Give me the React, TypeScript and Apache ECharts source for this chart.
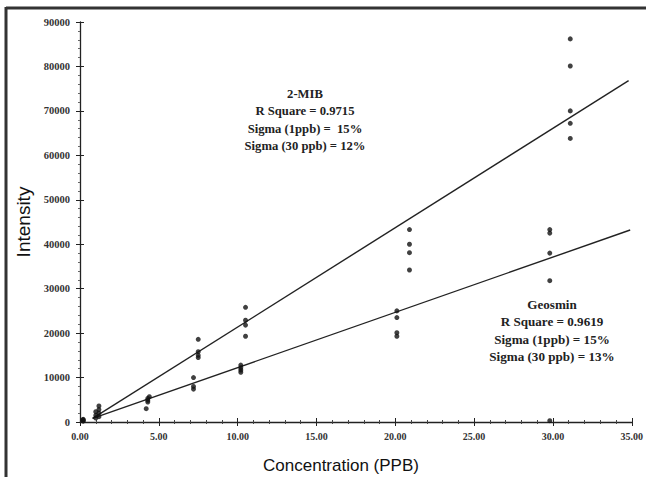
import React, { useEffect, useRef } from "react";
import * as echarts from "echarts";

const xTicks = [0, 5, 10, 15, 20, 25, 30, 35];
const yTicks = [0, 10000, 20000, 30000, 40000, 50000, 60000, 70000, 80000, 90000];

const mibX = [0.2, 0.2, 1.2, 1.2, 1.2, 1.2, 4.4, 4.2, 7.5, 7.5, 7.5, 7.5, 10.5, 10.5, 10.5, 10.5, 20.9, 20.9, 20.9, 20.9, 31.1, 31.1, 31.1, 31.1, 31.1];
const mibY = [300, 600, 1200, 2000, 2800, 3600, 5700, 3000, 18600, 15800, 15000, 14500, 25800, 22900, 21800, 19300, 43300, 40000, 38100, 34200, 86200, 80100, 70000, 67200, 63800];

const geoX = [0.2, 0.2, 1.0, 1.0, 1.0, 4.3, 4.3, 4.3, 7.2, 7.2, 7.2, 10.2, 10.2, 10.2, 10.2, 20.1, 20.1, 20.1, 20.1, 29.8, 29.8, 29.8, 29.8, 29.8];
const geoY = [200, 500, 900, 1500, 2300, 4500, 4900, 5300, 10000, 8000, 7400, 12800, 12200, 11700, 11200, 25000, 23500, 20100, 19300, 43300, 42500, 38000, 31800, 300];

const mibFitX = [0.8, 34.8];
const mibFitY = [800, 76800];
const geoFitX = [0.8, 34.9];
const geoFitY = [800, 43200];

const xTitle = "Concentration (PPB)";
const yTitle = "Intensity";
const mibNote = ["2-MIB", "R Square = 0.9715", "Sigma (1ppb) =  15%", "Sigma (30 ppb) = 12%"];
const geoNote = ["Geosmin", "R Square = 0.9619", "Sigma (1ppb) = 15%", "Sigma (30 ppb) = 13%"];

const zip = (a: number[], b: number[]) => a.map((v, i) => [v, b[i]]);

export default function App() {
  const ref = useRef<HTMLDivElement>(null);
  useEffect(() => {
    if (!ref.current) return;
    const chart = echarts.init(ref.current, null, { renderer: "svg" });
    const serif = "'Liberation Serif', 'DejaVu Serif', serif";
    const sans = "'Liberation Sans', Arial, sans-serif";
    const noteLines = (lines: string[], cx: number, y0: number, sx: number) =>
      lines.map((t, i) => ({
        type: "text",
        x: cx,
        y: y0 + i * 17.5,
        scaleX: sx,
        style: {
          text: t,
          fill: "#222",
          font: `bold 11.5px ${serif}`,
          textAlign: "center",
          textVerticalAlign: "middle",
        },
      }));
    const axisCommon = {
      axisLine: { show: true, lineStyle: { color: "#222", width: 1.3 } },
      splitLine: { show: false },
    };
    chart.setOption({
      animation: false,
      backgroundColor: "#fff",
      grid: { left: 80, right: 11, top: 22, bottom: 55 },
      xAxis: [
        {
          type: "value",
          min: 0,
          max: 35,
          interval: 5,
          ...axisCommon,
          axisTick: { show: true, length: 4, lineStyle: { color: "#222" } },
          minorTick: { show: true, splitNumber: 5, length: 2, lineStyle: { color: "#444" } },
          axisLabel: {
            formatter: (v: number) => v.toFixed(2),
            fontFamily: serif,
            fontWeight: "bold",
            fontSize: 10,
            color: "#333",
            margin: 9,
          },
        },
        {
          type: "value",
          min: 0,
          max: 35,
          interval: 5,
          position: "bottom",
          axisLine: { show: false },
          splitLine: { show: false },
          axisTick: { show: true, inside: true, length: 4, lineStyle: { color: "#222" } },
          minorTick: { show: true, splitNumber: 5, length: 2, lineStyle: { color: "#444" } },
          axisLabel: { show: false },
        },
      ],
      yAxis: [
        {
          type: "value",
          min: 0,
          max: 90000,
          interval: 10000,
          ...axisCommon,
          axisTick: { show: true, length: 4, lineStyle: { color: "#222" } },
          minorTick: { show: true, splitNumber: 5, length: 2, lineStyle: { color: "#666" } },
          axisLabel: {
            formatter: (v: number) => String(v),
            fontFamily: serif,
            fontWeight: "bold",
            fontSize: 10.5,
            color: "#333",
            margin: 10,
          },
        },
        {
          type: "value",
          min: 0,
          max: 90000,
          interval: 10000,
          position: "left",
          axisLine: { show: false },
          splitLine: { show: false },
          axisTick: { show: true, inside: true, length: 4, lineStyle: { color: "#222" } },
          axisLabel: { show: false },
        },
      ],
      series: [
        {
          name: "2-MIB fit",
          type: "line",
          data: zip(mibFitX, mibFitY),
          symbol: "none",
          lineStyle: { color: "#222", width: 1.4 },
          z: 2,
        },
        {
          name: "Geosmin fit",
          type: "line",
          data: zip(geoFitX, geoFitY),
          symbol: "none",
          lineStyle: { color: "#222", width: 1.4 },
          z: 2,
        },
        {
          name: "2-MIB",
          type: "scatter",
          data: zip(mibX, mibY),
          symbol: "circle",
          symbolSize: 5,
          itemStyle: { color: "#111" },
          z: 3,
        },
        {
          name: "Geosmin",
          type: "scatter",
          data: zip(geoX, geoY),
          symbol: "circle",
          symbolSize: 5,
          itemStyle: { color: "#111" },
          z: 3,
        },
      ],
      graphic: [
        {
          type: "line",
          shape: { x1: 6, y1: 8, x2: 646, y2: 8 },
          style: { stroke: "#333", lineWidth: 3 },
        },
        {
          type: "line",
          shape: { x1: 6, y1: 7, x2: 6, y2: 477 },
          style: { stroke: "#333", lineWidth: 3 },
        },
        {
          type: "text",
          x: 341,
          y: 465,
          style: {
            text: xTitle,
            fill: "#111",
            font: `17px ${sans}`,
            textAlign: "center",
            textVerticalAlign: "middle",
          },
        },
        {
          type: "text",
          x: 23,
          y: 222,
          rotation: Math.PI / 2,
          style: {
            text: yTitle,
            fill: "#111",
            font: `19px ${sans}`,
            textAlign: "center",
            textVerticalAlign: "middle",
          },
        },
        ...noteLines(mibNote, 305, 94, 1.1),
        ...noteLines(geoNote, 552, 305, 1.14),
      ],
    });
    return () => chart.dispose();
  }, []);
  return (
    <div
      ref={ref}
      style={{ position: "fixed", left: 0, top: 0, width: 646, height: 477, background: "#fff" }}
    />
  );
}
